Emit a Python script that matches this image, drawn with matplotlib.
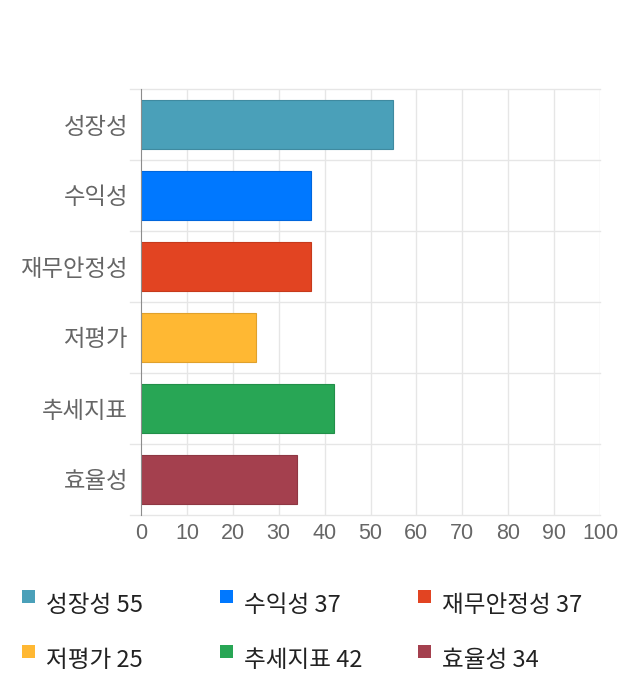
import matplotlib
matplotlib.use('Agg')
import matplotlib.pyplot as plt
from matplotlib.patches import Rectangle

plt.rcParams['font.family'] = ['Noto Sans CJK KR', 'DejaVu Sans']

categories = ['성장성', '수익성', '재무안정성', '저평가', '추세지표', '효율성']
values = [55, 37, 37, 25, 42, 34]
colors = ['#4aa0b9', '#0078ff', '#e24422', '#ffb833', '#28a655', '#a4404e']
edges = ['#3f8aa0', '#0066dd', '#c63a1c', '#e0a12c', '#228f49', '#8e3743']

W, H = 640, 700
fig = plt.figure(figsize=(W / 100, H / 100), dpi=100)
ax = fig.add_axes([141 / W, 1 - 515 / H, (600 - 141) / W, (515 - 89) / H])

ypos = list(range(len(categories)))
ax.barh(ypos, values, height=0.685, color=colors, edgecolor=edges, linewidth=0.8, zorder=3)

ax.set_xlim(0, 100)
ax.set_ylim(len(categories) - 0.5, -0.5)
ax.set_xticks(range(0, 101, 10))
ax.set_yticks(ypos)
ax.set_yticklabels(categories)

# grid lines: vertical at ticks, horizontal between categories
for x in range(10, 101, 10):
    ax.axvline(x, color='#e6e6e6', lw=1, zorder=1)
for i in range(len(categories) + 1):
    y = i - 0.5
    ax.plot([-2.4, 100], [y, y], color='#e6e6e6', lw=1, zorder=1, clip_on=False)

for s in ['top', 'right', 'bottom']:
    ax.spines[s].set_visible(False)
ax.spines['left'].set_color('#8c8c8c')
ax.spines['left'].set_zorder(4)

ax.tick_params(axis='both', length=0, colors='#666666')
ax.tick_params(axis='y', pad=9.4, labelsize=16.8)
ax.tick_params(axis='x', pad=6, labelsize=15.5)
for lbl in ax.get_xticklabels():
    lbl.set_family(['Liberation Sans', 'DejaVu Sans'])

# legend, laid out row by row as in the original
col_x = [22, 220, 418]
row_y = [590, 645]
for k, (cat, val, col) in enumerate(zip(categories, values, colors)):
    px = col_x[k % 3]
    py = row_y[k // 3]
    fig.add_artist(Rectangle((px / W, 1 - (py + 13) / H), 13 / W, 13 / H,
                             transform=fig.transFigure, facecolor=col, edgecolor='none'))
    fig.text((px + 24) / W, 1 - (py + 22) / H, f'{cat} {val}', fontsize=17,
             color='#222222', va='baseline', ha='left')

fig.savefig('out.png', dpi=100)
